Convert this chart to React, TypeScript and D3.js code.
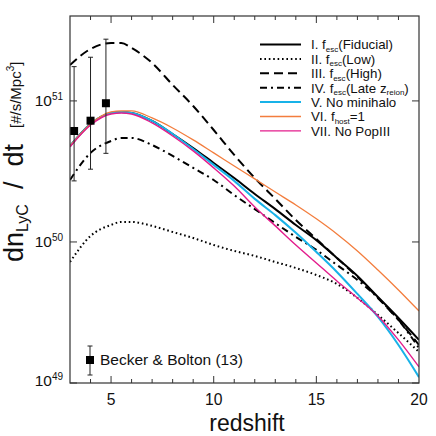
import React from "react";
import * as d3 from "d3";

// redshift grid the curves were read on, rates in units of 1e50 photons/s/Mpc^3
const redshift = [3, 4, 5, 5.5, 6, 7, 8, 9, 10, 11, 12, 13, 14, 15, 16, 17, 18, 19, 20];
const fiducial = [4.79, 6.86, 8.21, 8.35, 8.21, 7.21, 5.83, 4.64, 3.63, 2.84, 2.19, 1.71, 1.32, 1.03, 0.77, 0.574, 0.407, 0.289, 0.202];
const fescLow = [0.721, 1.103, 1.32, 1.386, 1.386, 1.3, 1.177, 1.067, 0.952, 0.864, 0.796, 0.721, 0.654, 0.583, 0.504, 0.401, 0.304, 0.226, 0.166];
const fescHigh = [17.98, 23.36, 25.76, 25.76, 23.74, 18.58, 12.98, 9.21, 6.22, 4.14, 2.84, 2.02, 1.43, 1.05, 0.77, 0.565, 0.401, 0.28, 0.186];
const lateReion = [2.75, 4.28, 5.2, 5.46, 5.46, 4.87, 4.07, 3.35, 2.75, 2.15, 1.71, 1.36, 1.085, 0.878, 0.687, 0.538, 0.401, 0.28, 0.177];
const noMinihalo = [4.79, 6.86, 8.21, 8.35, 8.21, 7.21, 5.83, 4.56, 3.52, 2.71, 2.02, 1.55, 1.16, 0.849, 0.613, 0.428, 0.294, 0.186, 0.11];
const fhostOne = [4.79, 6.86, 8.35, 8.49, 8.49, 7.57, 6.43, 5.29, 4.28, 3.46, 2.8, 2.26, 1.83, 1.46, 1.14, 0.864, 0.633, 0.457, 0.324];
const noPopIII = [4.72, 6.75, 8.08, 8.21, 8.08, 6.98, 5.64, 4.42, 3.35, 2.49, 1.77, 1.3, 0.952, 0.71, 0.529, 0.401, 0.299, 0.202, 0.13];

// Becker & Bolton (2013) points
const obsZ = [3.2, 4.0, 4.75];
const obsRate = [6.12, 7.24, 9.63];
const obsHigh = [17.5, 20.4, 27.4];
const obsLow = [2.71, 3.28, 4.25];

const UNIT = 1e50;
const xMajor = [5, 10, 15, 20];
const xMinor = d3.range(4, 20);
const yExp = [49, 50, 51];

type Part = { t: string; sub?: boolean; sup?: boolean };

const series = [
  { vals: fiducial, color: "#000", w: 2, dash: "", label: [{ t: "I. f" }, { t: "esc", sub: true }, { t: "(Fiducial)" }] },
  { vals: fescLow, color: "#000", w: 2, dash: "1.6,2.8", label: [{ t: "II. f" }, { t: "esc", sub: true }, { t: "(Low)" }] },
  { vals: fescHigh, color: "#000", w: 2, dash: "9,5", label: [{ t: "III. f" }, { t: "esc", sub: true }, { t: "(High)" }] },
  { vals: lateReion, color: "#000", w: 2, dash: "7,4,2,4", label: [{ t: "IV. f" }, { t: "esc", sub: true }, { t: "(Late z" }, { t: "reion", sub: true }, { t: ")" }] },
  { vals: noMinihalo, color: "#18b2e8", w: 2, dash: "", label: [{ t: "V. No minihalo" }] },
  { vals: fhostOne, color: "#f37d3d", w: 1.3, dash: "", label: [{ t: "VI. f" }, { t: "host", sub: true }, { t: "=1" }] },
  { vals: noPopIII, color: "#e31c8c", w: 1.4, dash: "", label: [{ t: "VII. No PopIII" }] },
];

function rich(parts: Part[], size: number, small: number, shift: number) {
  let cur = 0;
  return parts.map((p, i) => {
    const target = p.sub ? shift : p.sup ? -shift : 0;
    const dy = target - cur;
    cur = target;
    return (
      <tspan key={i} dy={dy} fontSize={p.sub || p.sup ? small : size}>
        {p.t}
      </tspan>
    );
  });
}

export default function App() {
  const left = 70, right = 419, top = 16, bottom = 383;
  const x = d3.scaleLinear().domain([3, 20]).range([left, right]);
  const y = d3.scaleLog().domain([1e49, 4e51]).range([bottom, top]);
  const line = d3
    .line<number>()
    .x((_, i) => x(redshift[i]))
    .y((v) => y(v * UNIT))
    .curve(d3.curveMonotoneX);

  const font = "'Liberation Sans', Arial, Helvetica, sans-serif";
  const axisColor = "#333";

  return (
    <svg
      width={436}
      height={436}
      style={{ position: "absolute", left: 0, top: 0, background: "#fff" }}
      fontFamily={font}
    >
      <defs>
        <clipPath id="plot">
          <rect x={left} y={top} width={right - left} height={bottom - top} />
        </clipPath>
      </defs>

      {/* curves */}
      <g clipPath="url(#plot)" fill="none">
        {series.map((s, i) => (
          <path key={i} d={line(s.vals) || ""} stroke={s.color} strokeWidth={s.w} strokeDasharray={s.dash || undefined} />
        ))}
      </g>

      {/* data with error bars */}
      <g stroke="#222" strokeWidth={1}>
        {obsZ.map((z, i) => (
          <g key={i}>
            <line x1={x(z)} x2={x(z)} y1={y(obsHigh[i] * UNIT)} y2={y(obsLow[i] * UNIT)} />
            <line x1={x(z) - 2.5} x2={x(z) + 2.5} y1={y(obsHigh[i] * UNIT)} y2={y(obsHigh[i] * UNIT)} />
            <line x1={x(z) - 2.5} x2={x(z) + 2.5} y1={y(obsLow[i] * UNIT)} y2={y(obsLow[i] * UNIT)} />
          </g>
        ))}
      </g>
      {obsZ.map((z, i) => (
        <rect key={i} x={x(z) - 4} y={y(obsRate[i] * UNIT) - 4} width={8} height={8} fill="#000" />
      ))}

      {/* frame + ticks */}
      <rect x={left} y={top} width={right - left} height={bottom - top} fill="none" stroke={axisColor} strokeWidth={1.2} />
      <g stroke={axisColor} strokeWidth={1}>
        {xMinor.map((t) => {
          const len = xMajor.includes(t) ? 7 : 4;
          return (
            <g key={t}>
              <line x1={x(t)} x2={x(t)} y1={bottom} y2={bottom - len} />
              <line x1={x(t)} x2={x(t)} y1={top} y2={top + len} />
            </g>
          );
        })}
        {yExp.map((e) => (
          <g key={e}>
            <line x1={left} x2={left + 7} y1={y(Math.pow(10, e))} y2={y(Math.pow(10, e))} />
            <line x1={right} x2={right - 7} y1={y(Math.pow(10, e))} y2={y(Math.pow(10, e))} />
          </g>
        ))}
      </g>

      {/* tick labels */}
      {xMajor.map((t) => (
        <text key={t} x={x(t)} y={405} fontSize={15.7} textAnchor="middle" fill="#111">
          {t}
        </text>
      ))}
      {yExp.map((e) => (
        <text key={e} x={63} y={Math.min(y(Math.pow(10, e)), 380) + 5.5} textAnchor="end" fill="#111">
          {rich([{ t: "10" }, { t: String(e), sup: true }], 15.5, 10, 6)}
        </text>
      ))}

      {/* axis titles */}
      <text x={247} y={431} fontSize={23} textAnchor="middle" fill="#111">
        redshift
      </text>
      <text transform="translate(23,262) rotate(-90)" fill="#111" style={{ whiteSpace: "pre" }}>
        {rich([{ t: "dn" }, { t: "LyC", sub: true }, { t: "  /  dt" }], 27, 16, 5)}
      </text>
      <text transform="translate(21,128) rotate(-90)" fill="#111" fontSize={15}>
        <tspan>[#/s/Mpc</tspan>
        <tspan fontSize={10} dy={-7}>3</tspan>
        <tspan dy={7}>]</tspan>
      </text>

      {/* legend */}
      {series.map((s, i) => {
        const cy = 44.5 + i * 14.4;
        return (
          <g key={i}>
            <line x1={260} x2={301} y1={cy} y2={cy} stroke={s.color} strokeWidth={s.w} strokeDasharray={s.dash || undefined} />
            <text x={311} y={cy + 4.8} fill="#111">
              {rich(s.label as Part[], 13.3, 8, 2.5)}
            </text>
          </g>
        );
      })}

      {/* data legend */}
      <g stroke="#222" strokeWidth={1}>
        <line x1={90} x2={90} y1={346} y2={375} />
        <line x1={87.5} x2={92.5} y1={346} y2={346} />
        <line x1={87.5} x2={92.5} y1={375} y2={375} />
      </g>
      <rect x={86} y={356} width={8} height={8} fill="#000" />
      <text x={100} y={365} fontSize={15.5} fill="#111">
        Becker &amp; Bolton (13)
      </text>
    </svg>
  );
}
